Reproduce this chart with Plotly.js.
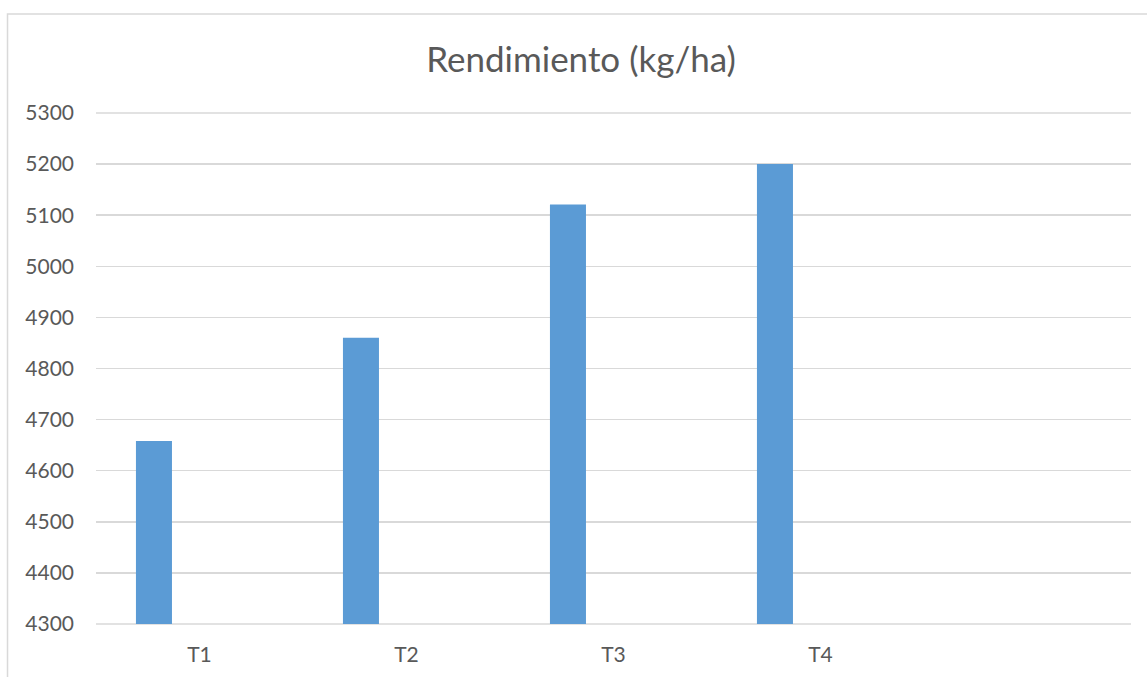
<!DOCTYPE html>
<html>
<head>
<meta charset="utf-8">
<script src="https://cdn.plot.ly/plotly-3.0.1.min.js"></script>
<style>
  html, body { margin: 0; padding: 0; background: #ffffff; }
  #chart { width: 1147px; height: 677px; }
</style>
</head>
<body>
<div id="chart"></div>
<script>
// Data
const categories = ["T1", "T2", "T3", "T4"];
const rendimiento = [4658, 4860, 5121, 5200];
const yTickValues = [4300, 4400, 4500, 4600, 4700, 4800, 4900, 5000, 5100, 5200, 5300];
const chartTitle = "Rendimiento (kg/ha)";

const textColor = "#595959";
const gridColor = "#d9d9d9";
const fontFamily = "Lato, 'Open Sans', sans-serif";

const trace = {
  type: "bar",
  x: categories,
  y: rendimiento,
  width: 0.174,
  offset: -0.307,
  marker: { color: "#5b9bd5", line: { width: 0 } },
  hoverinfo: "x+y",
  showlegend: false
};

const layout = {
  width: 1147,
  height: 677,
  margin: { l: 96, r: 16, t: 113, b: 53, pad: 0 },
  paper_bgcolor: "#ffffff",
  plot_bgcolor: "#ffffff",
  font: { family: fontFamily, color: textColor, size: 21 },
  title: {
    text: chartTitle,
    font: { family: fontFamily, size: 35, color: textColor },
    xref: "container",
    x: 0.5066,
    xanchor: "center",
    yref: "container",
    y: 0.9114,
    yanchor: "middle"
  },
  xaxis: {
    type: "category",
    categoryorder: "array",
    categoryarray: categories,
    range: [-0.5, 4.5],
    showgrid: false,
    zeroline: false,
    showline: false,
    ticks: "",
    ticklabelstandoff: 16,
    tickfont: { family: fontFamily, size: 21, color: textColor },
    fixedrange: true
  },
  yaxis: {
    range: [4300, 5300],
    tickvals: yTickValues,
    ticktext: yTickValues.map(String),
    showgrid: true,
    gridcolor: gridColor,
    gridwidth: 1.5,
    zeroline: false,
    showline: false,
    ticks: "",
    ticklabelstandoff: 21,
    tickfont: { family: fontFamily, size: 21, color: textColor },
    fixedrange: true
  },
  shapes: [
    {
      type: "line", xref: "paper", yref: "paper",
      x0: 0, x1: 1, y0: 0, y1: 0,
      line: { color: gridColor, width: 1.5 },
      layer: "below"
    },
    {
      type: "line", xref: "paper", yref: "paper",
      x0: 0, x1: 1, y0: 1, y1: 1,
      line: { color: gridColor, width: 1.5 },
      layer: "below"
    },
    {
      type: "rect", xref: "paper", yref: "paper",
      x0: -0.0855, x1: 1.1, y0: -0.2, y1: 1.1937,
      line: { color: gridColor, width: 1.5 },
      fillcolor: "rgba(0,0,0,0)",
      layer: "below"
    }
  ]
};

Plotly.newPlot("chart", [trace], layout, { displayModeBar: false, staticPlot: true });
</script>
</body>
</html>
